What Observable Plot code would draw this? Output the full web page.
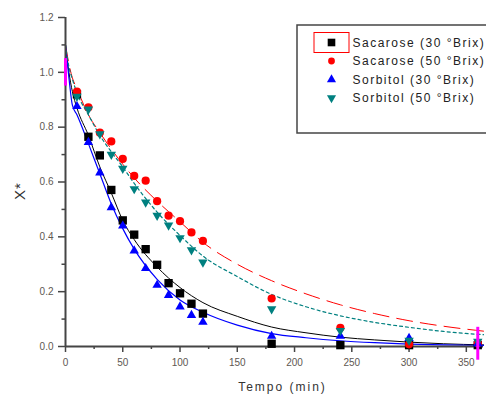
<!DOCTYPE html>
<html><head><meta charset="utf-8">
<script src="https://cdn.jsdelivr.net/npm/d3@7"></script>
<script src="https://cdn.jsdelivr.net/npm/@observablehq/plot@0.6"></script>
<style>
html,body{margin:0;padding:0;background:#fff;}
#chart{width:486px;height:397px;}
</style></head><body><div id="chart"></div>
<script>
// ---- data ----
const time = [10,20,30,40,50,60,70,80,90,100,110,120,180,240,300,360];
const sacarose30 = [0.92,0.765,0.697,0.571,0.46,0.408,0.355,0.298,0.231,0.194,0.156,0.12,0.01,0.005,0.005,0.005];
const sacarose50 = [0.93,0.872,0.78,0.748,0.684,0.622,0.605,0.53,0.477,0.457,0.416,0.385,0.175,0.068,0.008,0.012];
const sorbitol30 = [0.876,0.745,0.634,0.507,0.44,0.349,0.285,0.224,0.187,0.145,0.114,0.089,0.038,0.038,0.03,0.01];
const sorbitol50 = [0.912,0.865,0.775,0.70,0.649,0.575,0.526,0.478,0.442,0.396,0.352,0.307,0.137,0.058,0.022,0.018];

const fitTime = [0,3,6,10,20,30,40,50,60,80,100,120,150,180,210,240,270,300,330,365];
const fitSacarose30 = [1.10,1.00,0.93,0.87,0.77,0.655,0.56,0.46,0.39,0.29,0.215,0.16,0.11,0.071,0.05,0.034,0.024,0.016,0.01,0.006];
const fitSacarose50 = [1.10,1.03,0.98,0.94,0.845,0.78,0.72,0.665,0.615,0.53,0.455,0.38,0.30,0.24,0.192,0.152,0.12,0.094,0.074,0.056];
const fitSorbitol30 = [1.10,0.98,0.88,0.845,0.74,0.63,0.52,0.43,0.355,0.245,0.17,0.125,0.078,0.047,0.032,0.021,0.014,0.009,0.006,0.004];
const fitSorbitol50 = [1.10,1.02,0.975,0.925,0.845,0.77,0.71,0.655,0.595,0.49,0.405,0.33,0.255,0.19,0.145,0.112,0.088,0.07,0.055,0.043];

const errTime = [0, 360];
const errLow = [0.95, -0.05];
const errHigh = [1.05, 0.07];

const seriesNames = ["Sacarose (30 °Brix)", "Sacarose (50 °Brix)", "Sorbitol (30 °Brix)", "Sorbitol (50 °Brix)"];
const seriesColors = ["#000000", "#ff0000", "#0000ff", "#008080"];
const yTicks = [0, 0.2, 0.4, 0.6, 0.8, 1.0, 1.2];
const yMinor = [0.1, 0.3, 0.5, 0.7, 0.9, 1.1];
const xTicks = [0, 50, 100, 150, 200, 250, 300, 350];
const xMinor = [25, 75, 125, 175, 225, 275, 325];
const xLabel = "Tempo (min)";
const yLabel = "X*";

// ---- tables ----
const pts = time.map((t, i) => ({t, s30: sacarose30[i], s50: sacarose50[i], b30: sorbitol30[i], b50: sorbitol50[i]}));
const fit = fitTime.map((t, i) => ({t, s30: fitSacarose30[i], s50: fitSacarose50[i], b30: fitSorbitol30[i], b50: fitSorbitol50[i]}));
const err = errTime.map((t, i) => ({t, lo: errLow[i], hi: errHigh[i]}));

const invTriangle = {
  draw(ctx, size) {
    const s3 = Math.sqrt(3);
    const y = -Math.sqrt(size / (s3 * 3));
    ctx.moveTo(0, -y * 2);
    ctx.lineTo(-s3 * y, y);
    ctx.lineTo(s3 * y, y);
    ctx.closePath();
  }
};

const axisColor = "#454545";
const tickText = "#5e5852";

const plot = Plot.plot({
  width: 486, height: 397,
  marginLeft: 65, marginRight: 3, marginTop: 17, marginBottom: 51,
  style: {fontFamily: "'Liberation Sans', Arial, sans-serif", background: "white", overflow: "visible"},
  x: {domain: [0, 365]},
  y: {domain: [0, 1.2]},
  marks: [
    Plot.line(fit, {x: "t", y: "s30", stroke: seriesColors[0], strokeWidth: 1, curve: "monotone-x"}),
    Plot.line(fit, {x: "t", y: "s50", stroke: seriesColors[1], strokeWidth: 1, strokeDasharray: "16,8", curve: "monotone-x"}),
    Plot.line(fit, {x: "t", y: "b30", stroke: seriesColors[2], strokeWidth: 1.2, curve: "monotone-x"}),
    Plot.line(fit, {x: "t", y: "b50", stroke: seriesColors[3], strokeWidth: 1.2, strokeDasharray: "3,3", curve: "monotone-x"}),
    Plot.axisY(yTicks, {tickSize: 7, tickPadding: 5, tickFormat: d3.format(".1f"), fontSize: 10, stroke: axisColor, strokeWidth: 1.5, fill: tickText, label: null}),
    Plot.axisY(yMinor, {tickSize: 3.5, tickFormat: () => "", stroke: axisColor, strokeWidth: 1.5, label: null}),
    Plot.axisX(xTicks, {tickSize: 6, tickPadding: 6, fontSize: 10, stroke: axisColor, strokeWidth: 1.5, fill: tickText, label: null}),
    Plot.axisX(xMinor, {tickSize: 3, tickFormat: () => "", stroke: axisColor, strokeWidth: 1.5, label: null}),
    Plot.ruleX([0], {stroke: axisColor, strokeWidth: 2}),
    Plot.ruleY([0], {stroke: axisColor, strokeWidth: 2}),
    Plot.dot(pts, {x: "t", y: "s30", symbol: "square", r: 4.7, fill: seriesColors[0], stroke: "none"}),
    Plot.dot(pts, {x: "t", y: "s50", symbol: "circle", r: 4.1, fill: seriesColors[1], stroke: "none"}),
    Plot.dot(pts, {x: "t", y: "b30", symbol: "triangle", r: 3.5, fill: seriesColors[2], stroke: "none"}),
    Plot.dot(pts, {x: "t", y: "b50", symbol: invTriangle, r: 3.5, fill: seriesColors[3], stroke: "none"}),
    Plot.ruleX(err, {x: "t", y1: "lo", y2: "hi", stroke: "#ff00ff", strokeWidth: 3})
  ]
});
document.getElementById("chart").appendChild(plot);

// ---- labels and legend ----
const svg = d3.select(plot);
svg.append("text").attr("x", 282.5).attr("y", 387).attr("text-anchor", "middle")
  .attr("dominant-baseline", "central").attr("font-size", 12).attr("letter-spacing", "2px")
  .attr("fill", "#333").text(xLabel);
svg.append("text").attr("transform", "translate(19,191) rotate(-90)").attr("text-anchor", "middle")
  .attr("dominant-baseline", "central").attr("font-size", 15).attr("letter-spacing", "1px")
  .attr("fill", "#333").text(yLabel);

const lg = svg.append("g");
lg.append("rect").attr("x", 297).attr("y", 25).attr("width", 200).attr("height", 108)
  .attr("fill", "white").attr("stroke", axisColor).attr("stroke-width", 1.5);
const rowY = [42.5, 61, 79.5, 98];
const legSymbols = [d3.symbolSquare, d3.symbolCircle, d3.symbolTriangle, invTriangle];
const legSizes = [58, 36, 36, 36];
seriesNames.forEach((name, i) => {
  lg.append("path").attr("d", d3.symbol(legSymbols[i], legSizes[i])())
    .attr("transform", `translate(331.5,${rowY[i]})`).attr("fill", seriesColors[i]);
  lg.append("text").attr("x", 352.5).attr("y", rowY[i]).attr("text-anchor", "start")
    .attr("dominant-baseline", "central")
    .attr("font-size", 12).attr("letter-spacing", "1.5px").attr("fill", "#222").text(name);
});
lg.append("rect").attr("x", 314).attr("y", 32.5).attr("width", 35).attr("height", 20)
  .attr("fill", "none").attr("stroke", "#ff0000").attr("stroke-width", 1);
</script>
</body></html>
